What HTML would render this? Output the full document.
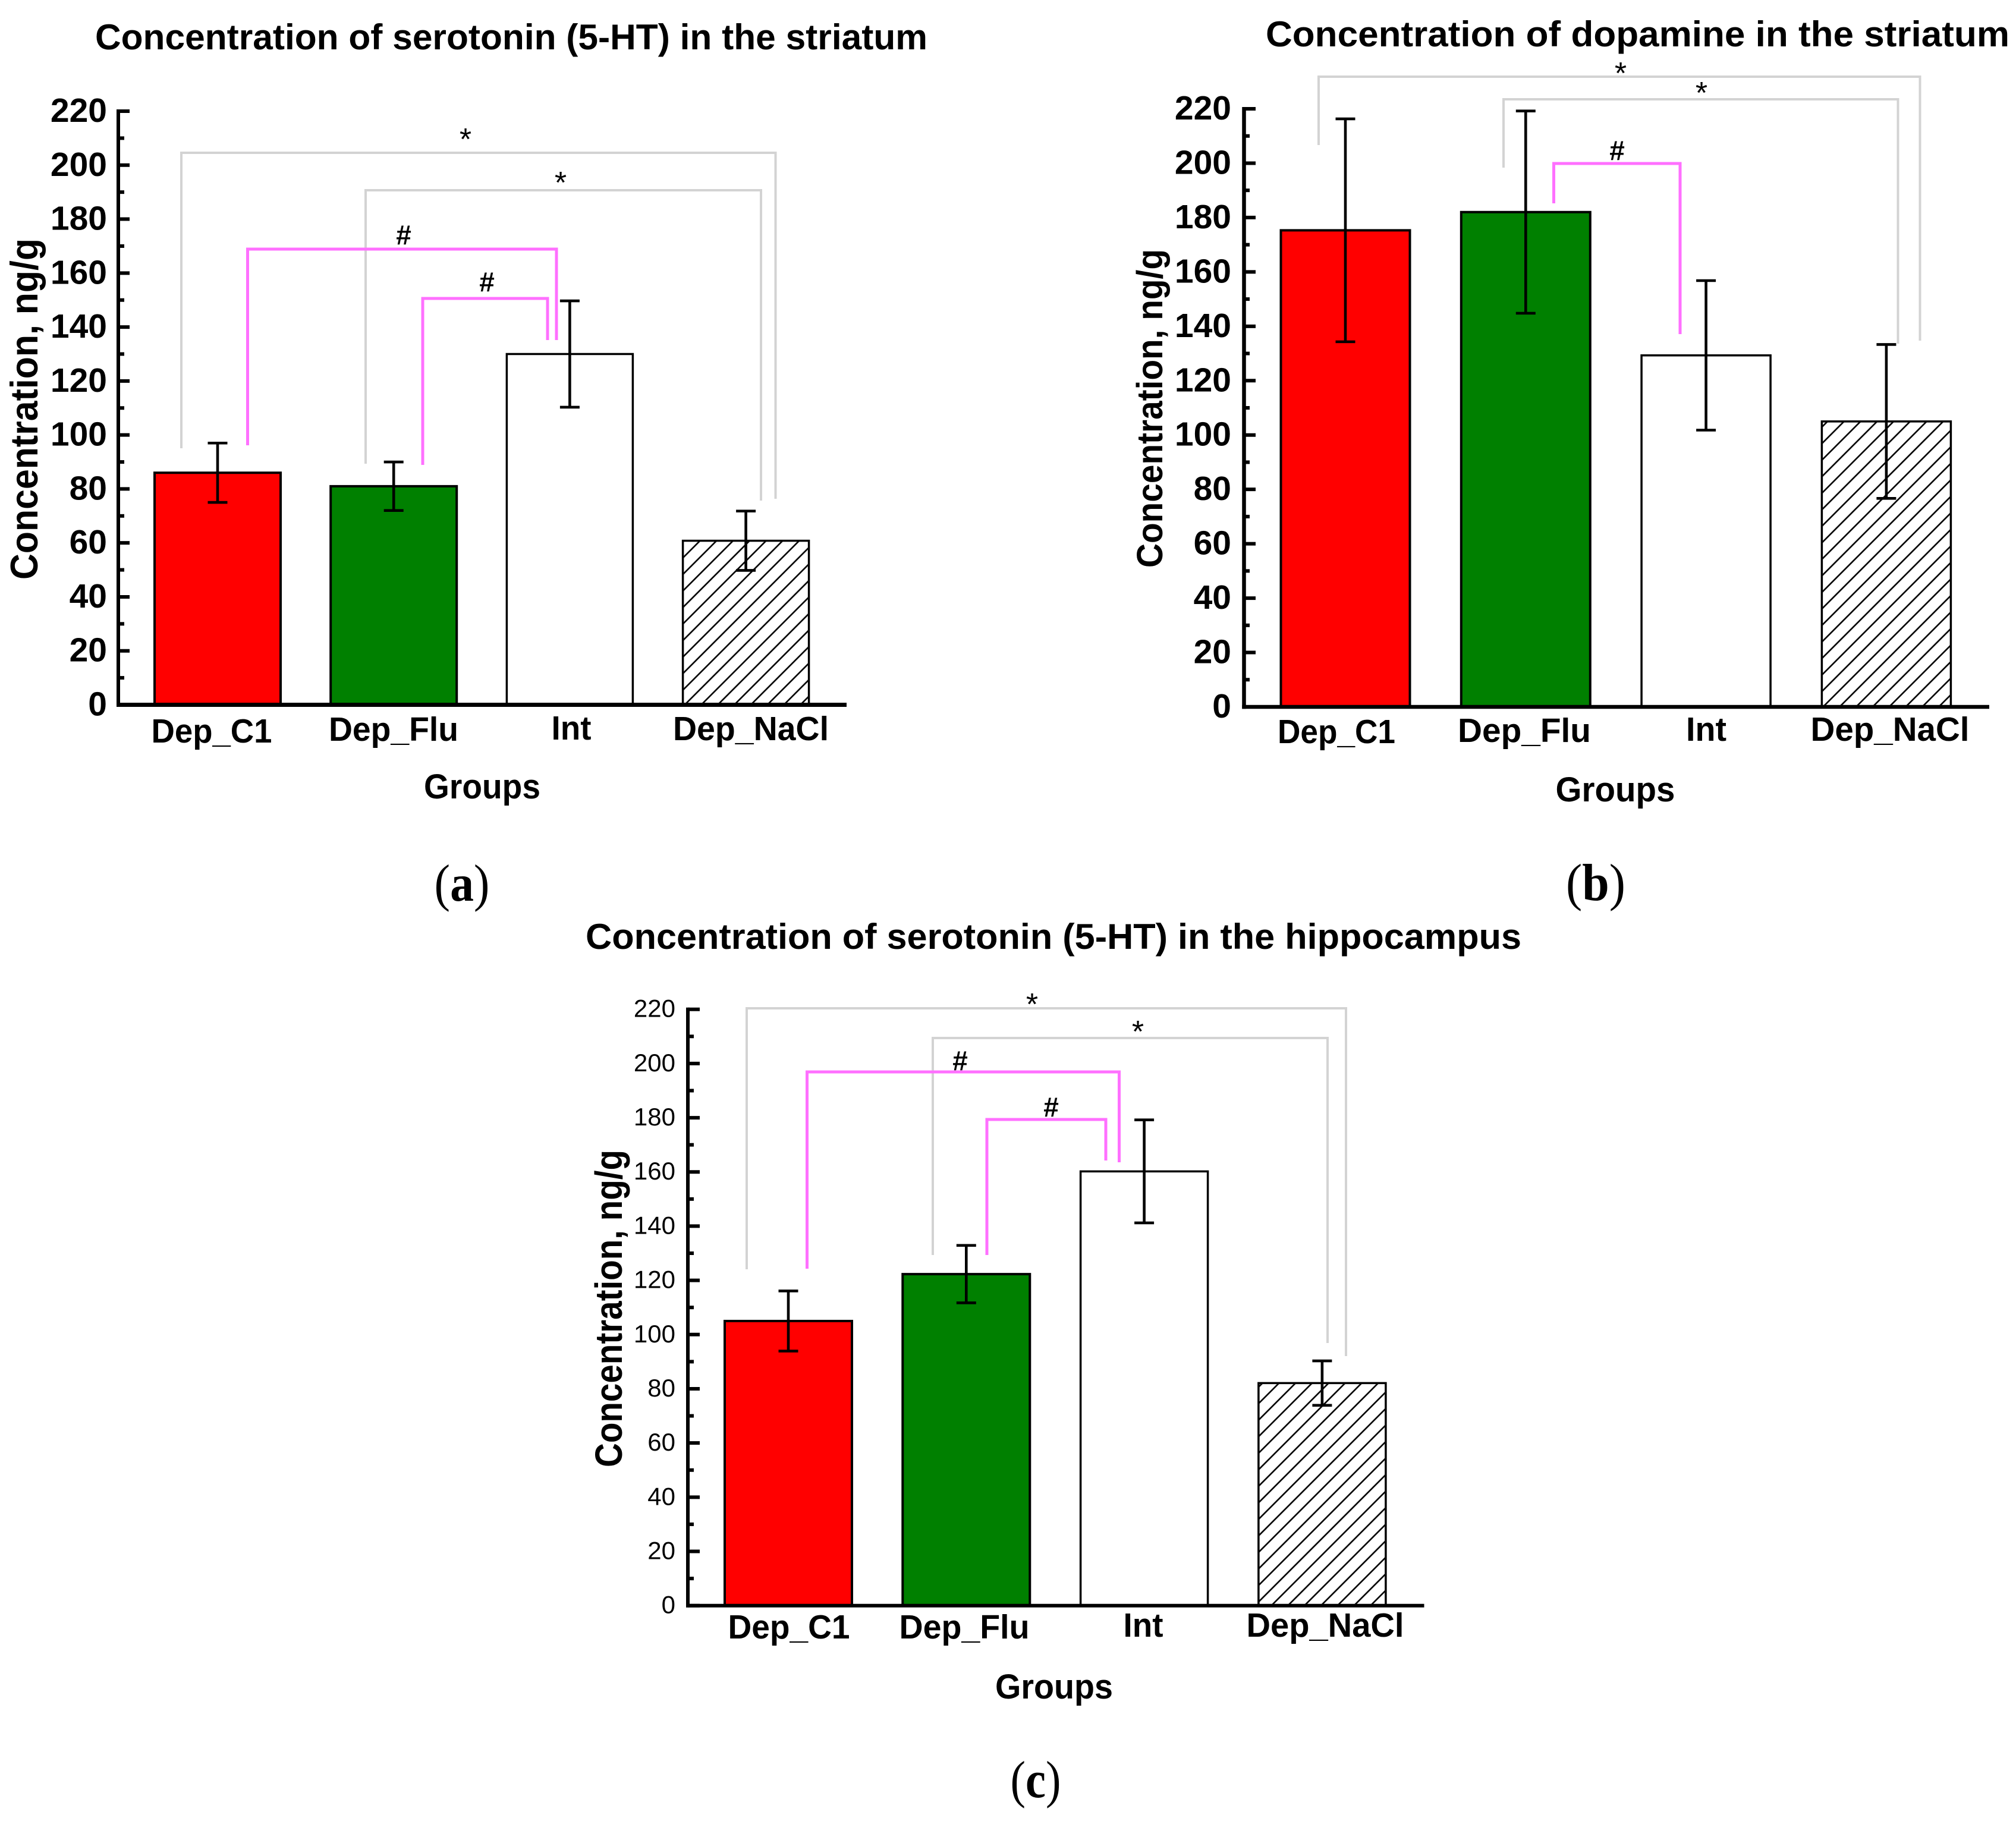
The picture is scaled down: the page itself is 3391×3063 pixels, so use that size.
<!DOCTYPE html>
<html lang="en">
<head>
<meta charset="utf-8">
<title>Concentration of serotonin and dopamine by group</title>
<style>
html,body{margin:0;padding:0;background:#fff;}
svg{display:block;}
text{font-family:"Liberation Sans",Arial,sans-serif;fill:#000;}
.b{font-weight:bold;}
.title{font-weight:bold;font-size:60px;}
.axt{font-weight:bold;}
.grp{font-weight:bold;font-size:58px;text-anchor:middle;}
.letter{font-family:"Liberation Serif",serif;font-size:88px;text-anchor:middle;}
.sig{font-size:46px;font-weight:bold;text-anchor:middle;}
.star{font-size:52px;font-weight:normal;text-anchor:middle;}
.gr{fill:none;stroke:#d3d3d3;stroke-width:4;}
.pk{fill:none;stroke:#ff70ff;stroke-width:5;}
</style>
</head>
<body>
<svg id="fig" xmlns="http://www.w3.org/2000/svg" width="3391" height="3063" viewBox="0 0 3391 3063">
<defs>
<pattern id="hatch-a" patternUnits="userSpaceOnUse" width="27.8" height="27.8" patternTransform="translate(2,0)">
<rect width="27.8" height="27.8" fill="#fff"/>
<path d="M-2,2 L2,-2 M0,27.8 L27.8,0 M25.8,29.8 L29.8,25.8" stroke="#000" stroke-width="2.6" fill="none"/>
</pattern>
<pattern id="hatch-b" patternUnits="userSpaceOnUse" width="27.8" height="27.8" patternTransform="translate(2,0)">
<rect width="27.8" height="27.8" fill="#fff"/>
<path d="M-2,2 L2,-2 M0,27.8 L27.8,0 M25.8,29.8 L29.8,25.8" stroke="#000" stroke-width="2.6" fill="none"/>
</pattern>
<pattern id="hatch-c" patternUnits="userSpaceOnUse" width="27.8" height="27.8" patternTransform="translate(2,0)">
<rect width="27.8" height="27.8" fill="#fff"/>
<path d="M-2,2 L2,-2 M0,27.8 L27.8,0 M25.8,29.8 L29.8,25.8" stroke="#000" stroke-width="2.6" fill="none"/>
</pattern>
</defs>

<rect x="0" y="0" width="3391" height="3063" fill="#fff"/>

<!-- Panel a -->
<g id="panel-a">
<text class="title" x="160" y="83" textLength="1400" lengthAdjust="spacingAndGlyphs">Concentration of serotonin (5-HT) in the striatum</text>
<text class="axt" font-size="65" transform="translate(63,975) rotate(-90)" textLength="574" lengthAdjust="spacingAndGlyphs">Concentration, ng/g</text>
<text class="grp" x="811" y="1343" textLength="196" lengthAdjust="spacingAndGlyphs">Groups</text>
<text class="letter" x="777" y="1515" textLength="93" lengthAdjust="spacingAndGlyphs">(<tspan class="b">a</tspan>)</text>
<g>
<path class="gr" d="M305,754 V257 H1304.5 V839"/>
<path class="gr" d="M615,780 V320 H1280 V842"/>
<path class="pk" d="M416.5,749 V419 H936 V572"/>
<path class="pk" d="M711,782 V502 H921 V572"/>
<text class="star" x="783" y="252">*</text>
<text class="star" x="943" y="325">*</text>
<text class="sig" x="679" y="411">#</text>
<text class="sig" x="819" y="490">#</text>
</g>
</g>

<!-- Panel b -->
<g id="panel-b">
<text class="title" x="2129" y="78" textLength="1251" lengthAdjust="spacingAndGlyphs">Concentration of dopamine in the striatum</text>
<text class="axt" font-size="61" transform="translate(1955,955) rotate(-90)" textLength="536" lengthAdjust="spacingAndGlyphs">Concentration, ng/g</text>
<text class="grp" x="2717" y="1348" textLength="201" lengthAdjust="spacingAndGlyphs">Groups</text>
<text class="letter" x="2684" y="1514" textLength="100" lengthAdjust="spacingAndGlyphs">(<tspan class="b">b</tspan>)</text>
<g>
<path class="gr" d="M2218,244 V129 H3229.5 V573"/>
<path class="gr" d="M2529,282 V167 H3192.5 V578"/>
<path class="pk" d="M2613.5,342 V275 H2826 V562"/>
<text class="star" x="2726" y="141">*</text>
<text class="star" x="2862" y="174">*</text>
<text class="sig" x="2720" y="269">#</text>
</g>
</g>

<!-- Panel c -->
<g id="panel-c">
<text class="title" x="985" y="1596" textLength="1574" lengthAdjust="spacingAndGlyphs">Concentration of serotonin (5-HT) in the hippocampus</text>
<text class="axt" font-size="64" transform="translate(1046,2468) rotate(-90)" textLength="534" lengthAdjust="spacingAndGlyphs">Concentration, ng/g</text>
<text class="grp" x="1773" y="2857" textLength="198" lengthAdjust="spacingAndGlyphs">Groups</text>
<text class="letter" x="1742" y="3023" textLength="85" lengthAdjust="spacingAndGlyphs">(<tspan class="b">c</tspan>)</text>
<g>
<path class="gr" d="M1256,2135 V1696 H2264 V2281"/>
<path class="gr" d="M1569,2111 V1746 H2233 V2259"/>
<path class="pk" d="M1357.5,2134 V1803 H1882.5 V1955"/>
<path class="pk" d="M1660,2111 V1883 H1860 V1952"/>
<text class="star" x="1736" y="1707">*</text>
<text class="star" x="1914" y="1753">*</text>
<text class="sig" x="1615" y="1800">#</text>
<text class="sig" x="1768" y="1878">#</text>
</g>
</g>
</svg>

<script>
// Chart data
const categories = ['Dep_C1', 'Dep_Flu', 'Int', 'Dep_NaCl'];
const yTickLabels = [0, 20, 40, 60, 80, 100, 120, 140, 160, 180, 200, 220];
const yMinorTicks = [10, 30, 50, 70, 90, 110, 130, 150, 170, 190, 210];
const yMax = 220;

const serotoninStriatumMeans = [86, 81, 130, 60.8];
const serotoninStriatumErrors = [11, 9, 19.7, 11];

const dopamineStriatumMeans = [175.3, 182, 129.3, 105];
const dopamineStriatumErrors = [41, 37.2, 27.5, 28.3];

const serotoninHippocampusMeans = [105, 122.3, 160.2, 82.1];
const serotoninHippocampusErrors = [11.1, 10.6, 19, 8.2];

// Panel layouts (geometry only)
const layoutA = {
  id: 'a', y0: 1185.5, yTop: 187, axisX: 199, axisW: 6, xEnd: 1424, baseW: 7,
  x0: 366, step: 296.2, barW: 212, tickLabelX: 180, tickFont: 57, tickDy: 18, tickBold: true,
  majorEnd: 218, minorEnd: 209,
  catCx: [356, 662, 961, 1263], catY: [1249, 1246, 1244, 1245], catW: [203, 218, 67, 262]
};
const layoutB = {
  id: 'b', y0: 1189, yTop: 183, axisX: 2092.5, axisW: 6.5, xEnd: 3346, baseW: 6.5,
  x0: 2263, step: 303.3, barW: 217, tickLabelX: 2071, tickFont: 57, tickDy: 18, tickBold: true,
  majorEnd: 2112, minorEnd: 2102,
  catCx: [2248, 2564, 2870, 3179], catY: [1250, 1248, 1246, 1246], catW: [198, 224, 68, 267]
};
const layoutC = {
  id: 'c', y0: 2700.7, yTop: 1697.7, axisX: 1157, axisW: 6, xEnd: 2395.5, baseW: 6,
  x0: 1326, step: 299.3, barW: 214, tickLabelX: 1136, tickFont: 42, tickDy: 13, tickBold: false,
  majorEnd: 1177, minorEnd: 1167,
  catCx: [1327, 1622, 1923, 2229], catY: [2756, 2756, 2753, 2753], catW: [205, 219, 67, 265]
};

const SVGNS = 'http://www.w3.org/2000/svg';
function make(tag, parent, attrs) {
  const el = document.createElementNS(SVGNS, tag);
  for (const k in attrs) el.setAttribute(k, attrs[k]);
  parent.appendChild(el);
  return el;
}

function drawPanel(layout, means, errors) {
  const root = document.getElementById('panel-' + layout.id);
  const yScale = v => layout.y0 - (v / yMax) * (layout.y0 - layout.yTop);
  const xScale = i => layout.x0 + i * layout.step;
  const fills = ['#ff0000', '#008000', '#ffffff', 'url(#hatch-' + layout.id + ')'];
  const strokes = [4, 4, 3.5, 3.5];

  const barsGroup = make('g', root, {});
  
  

  categories.forEach((cat, i) => {
    const top = yScale(means[i]);
    const bar = make('rect', barsGroup, {
      x: xScale(i) - layout.barW / 2, y: top,
      width: layout.barW, height: layout.y0 - top,
      fill: fills[i], stroke: '#000', 'stroke-width': strokes[i]
    });
    
    
  });

  categories.forEach((cat, i) => {
    const cx = xScale(i);
    const hi = yScale(means[i] + errors[i]);
    const lo = yScale(means[i] - errors[i]);
    const err = make('path', barsGroup, {
      d: 'M' + (cx - 16.5) + ',' + hi + ' H' + (cx + 16.5) +
         ' M' + cx + ',' + hi + ' V' + lo +
         ' M' + (cx - 16.5) + ',' + lo + ' H' + (cx + 16.5),
      fill: 'none', stroke: '#000', 'stroke-width': 4.6
    });
    
    
  });

  const axisGroup = make('g', root, {});
  
  

  yTickLabels.forEach(v => {
    const y = yScale(v);
    const tick = make('line', axisGroup, {
      x1: layout.axisX, x2: layout.majorEnd, y1: y, y2: y,
      stroke: '#000', 'stroke-width': 6
    });
    
    
    const label = make('text', axisGroup, {
      x: layout.tickLabelX, y: y + layout.tickDy, 'text-anchor': 'end',
      'font-size': layout.tickFont, 'font-weight': layout.tickBold ? 'bold' : 'normal'
    });
    label.textContent = String(v);
    
    
  });

  yMinorTicks.forEach(v => {
    const y = yScale(v);
    const tick = make('line', axisGroup, {
      x1: layout.axisX, x2: layout.minorEnd, y1: y, y2: y,
      stroke: '#000', 'stroke-width': 6
    });
    
    
  });

  const yAxis = make('line', axisGroup, {
    x1: layout.axisX, x2: layout.axisX,
    y1: layout.yTop - 3, y2: layout.y0 + layout.baseW / 2,
    stroke: '#000', 'stroke-width': layout.axisW
  });
  
  

  const xAxis = make('line', axisGroup, {
    x1: layout.axisX - layout.axisW / 2, x2: layout.xEnd,
    y1: layout.y0, y2: layout.y0,
    stroke: '#000', 'stroke-width': layout.baseW
  });
  
  

  categories.forEach((cat, i) => {
    const label = make('text', axisGroup, {
      x: layout.catCx[i], y: layout.catY[i], 'text-anchor': 'middle',
      'font-size': 57, 'font-weight': 'bold',
      textLength: layout.catW[i], lengthAdjust: 'spacingAndGlyphs'
    });
    label.textContent = cat;
    
    
  });
}

drawPanel(layoutA, serotoninStriatumMeans, serotoninStriatumErrors);
drawPanel(layoutB, dopamineStriatumMeans, dopamineStriatumErrors);
drawPanel(layoutC, serotoninHippocampusMeans, serotoninHippocampusErrors);
</script>
</body>
</html>
